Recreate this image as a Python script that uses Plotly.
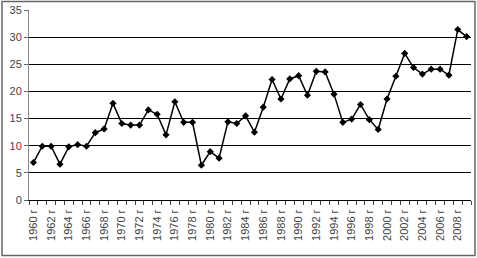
import plotly.graph_objects as go

years = list(range(1960, 2010))
values = [6.9, 9.9, 9.9, 6.6, 9.8, 10.2, 9.9, 12.4, 13.1, 17.8,
          14.1, 13.8, 13.8, 16.6, 15.8, 12.0, 18.1, 14.3, 14.3, 6.4,
          8.9, 7.7, 14.4, 14.1, 15.5, 12.5, 17.1, 22.2, 18.6, 22.3,
          22.9, 19.3, 23.7, 23.6, 19.5, 14.3, 14.9, 17.6, 14.8, 13.0,
          18.6, 22.8, 27.0, 24.4, 23.2, 24.1, 24.1, 23.0, 31.4, 30.1]
label_years = years[::2]
labels = [f"{y} г" for y in label_years]

fig = go.Figure()
fig.add_trace(go.Scatter(
    x=years, y=values, mode="lines+markers",
    line=dict(color="black", width=1.5),
    marker=dict(symbol="diamond", size=5.5, color="black"),
    showlegend=False, hoverinfo="skip", cliponaxis=False))

fig.update_layout(
    width=477, height=258,
    margin=dict(l=29, r=6, t=10, b=58),
    paper_bgcolor="white", plot_bgcolor="white",
    font=dict(family="Liberation Sans, Arial, sans-serif", size=11, color="#222"),
    xaxis=dict(
        range=[1959.5, 2009.5], tickmode="array", tickvals=label_years,
        ticktext=labels, tickangle=-90, ticks="", showgrid=False,
        showline=True, linecolor="black", linewidth=1, zeroline=False,
        automargin=False, ticklabelstandoff=4,
        minor=dict(ticks="outside", tick0=1959.5, dtick=1, ticklen=4,
                   tickcolor="#444", showgrid=False),
        tickfont=dict(size=11, color="#444")),
    yaxis=dict(
        range=[0, 35], dtick=5, showgrid=True, gridcolor="black", gridwidth=1,
        showline=True, linecolor="#888", linewidth=1, zeroline=False,
        automargin=False,
        ticks="outside", ticklen=4, tickcolor="#666",
        tickfont=dict(size=11, color="#444")),
    shapes=[dict(type="rect", xref="paper", yref="paper",
                 x0=(2 - 29) / 442, x1=(475 - 29) / 442,
                 y0=(200 - 255.5) / 190, y1=(200 - 1.5) / 190,
                 line=dict(color="#666", width=1.5), layer="above")],
)

fig.write_html("out.html", config={"displayModeBar": False},
               post_script="document.body.style.margin='0';document.body.style.overflow='hidden';")
